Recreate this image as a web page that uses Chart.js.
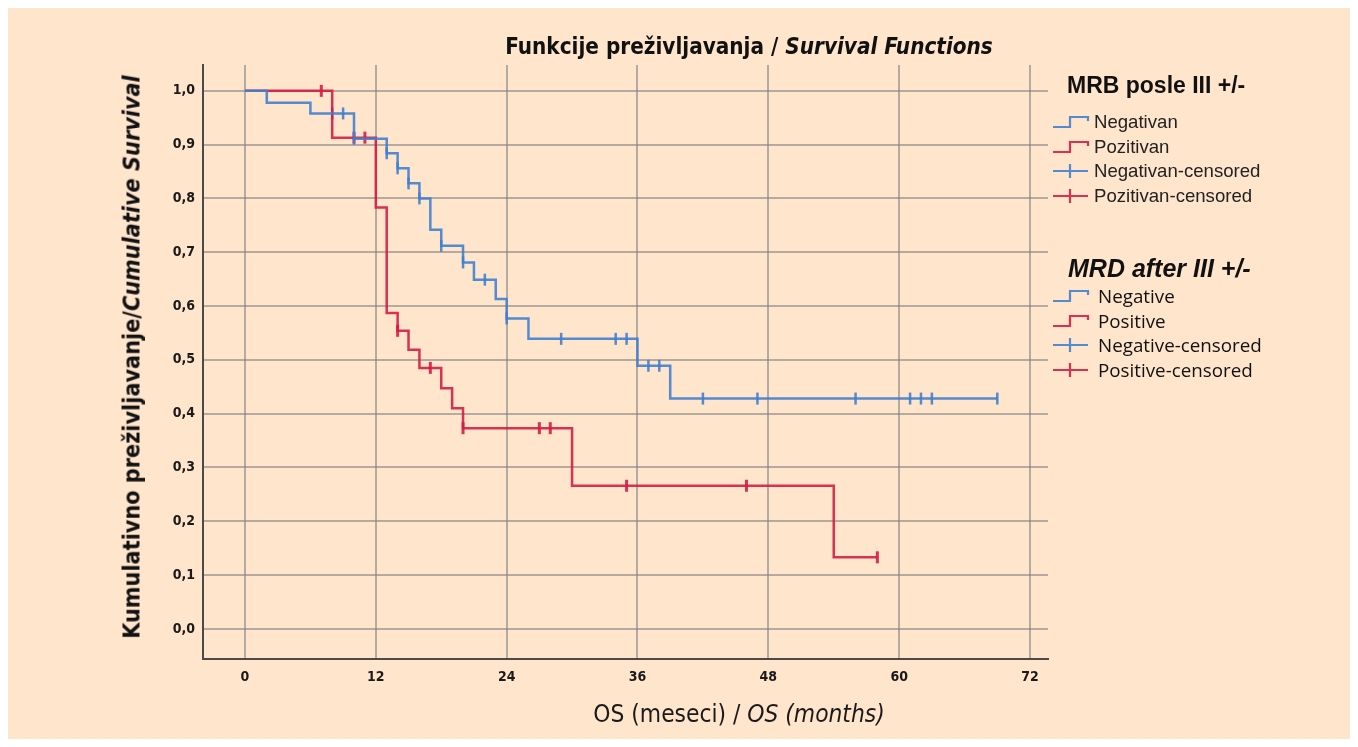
<!DOCTYPE html>
<html>
<head>
<meta charset="utf-8">
<script src="https://cdn.jsdelivr.net/npm/chart.js@4.4.1/dist/chart.umd.min.js"></script>
<style>
  html, body { margin: 0; padding: 0; background: #ffffff; }
  #wrap { position: absolute; left: 8px; top: 8px; width: 1342px; height: 731px; background: #fee5cc; }
  #chart { position: absolute; left: -8px; top: -8px; }
  .txt { position: absolute; white-space: nowrap; color: #111; }
  #title { left: 749px; top: 46px; transform: translate(-50%, -50%); font: bold 22.3px "Liberation Sans Narrow", "DejaVu Sans Condensed", sans-serif; }
  #ytitle { left: 131px; top: 357px; transform: translate(-50%, -50%) rotate(-90deg); font: bold 23.2px "Liberation Sans Narrow", "DejaVu Sans Condensed", sans-serif; }
  #xtitle { left: 739px; top: 713px; transform: translate(-50%, -50%); font: 24.3px "Liberation Sans Narrow", "DejaVu Sans Condensed", sans-serif; color: #1a1a1a; }
  .lgTitle { font: bold 23px "Liberation Sans", Arial, sans-serif; }
  .lgItem { font: 18.6px "Liberation Sans", Arial, sans-serif; color: #222; }
  .lgItem2 { font: 500 18.8px "Open Sans", sans-serif; color: #111; }
  svg.icon { position: absolute; }
</style>
</head>
<body>
<div id="wrap">
  <canvas id="chart" width="1358" height="747"></canvas>
</div>
<div class="txt" id="title">Funkcije preživljavanja / <i>Survival Functions</i></div>
<div class="txt" id="ytitle">Kumulativno preživljavanje/<i>Cumulative Survival</i></div>
<div class="txt" id="xtitle">OS (meseci) / <i>OS (months)</i></div>
<div id="legend"></div>
<script>
// Kaplan-Meier steps (time in months, survival after the drop)
const negTimes = [0, 2, 6, 10, 13, 14, 15, 16, 17, 18, 20, 21, 23, 24, 26, 36, 39, 69];
const negSurv = [1.0, 0.978, 0.958, 0.911, 0.884, 0.856, 0.828, 0.800, 0.742, 0.712, 0.681, 0.649, 0.613, 0.577, 0.539, 0.489, 0.428, 0.428];
const negCensored = [8, 9, 10, 13, 14, 15, 16, 18, 20, 22, 24, 29, 34, 35, 37, 38, 42, 47, 56, 61, 62, 63, 69];

const posTimes = [0, 8, 12, 13, 14, 15, 16, 18, 19, 20, 30, 54, 58];
const posSurv = [1.0, 0.913, 0.783, 0.587, 0.554, 0.519, 0.485, 0.447, 0.410, 0.373, 0.266, 0.133, 0.133];
const posCensored = [7, 10, 11, 14, 17, 20, 27, 28, 35, 46, 58];

const xTicks = [0, 12, 24, 36, 48, 60, 72];
const yTicks = [0, 0.1, 0.2, 0.3, 0.4, 0.5, 0.6, 0.7, 0.8, 0.9, 1.0];

const blue = 'rgba(64, 128, 208, 0.9)';
const red = 'rgba(214, 28, 68, 0.9)';

// survival level at a censored time = level of the curve at that moment
function levelAt(times, surv, t) {
  let v = surv[0];
  for (let i = 0; i < times.length; i++) {
    if (times[i] <= t) v = surv[i];
  }
  return v;
}

const toPoints = (times, surv) => times.map((t, i) => ({ x: t, y: surv[i] }));
const toCensor = (cens, times, surv) => cens.map(t => ({ x: t, y: levelAt(times, surv, t) }));

const ctx = document.getElementById('chart').getContext('2d');

new Chart(ctx, {
  type: 'line',
  data: {
    datasets: [
      {
        label: 'Negativan',
        data: toPoints(negTimes, negSurv),
        borderColor: blue,
        borderWidth: 2.5,
        stepped: 'before',
        pointRadius: 0,
        fill: false
      },
      {
        label: 'Pozitivan',
        data: toPoints(posTimes, posSurv),
        borderColor: red,
        borderWidth: 2.5,
        stepped: 'before',
        pointRadius: 0,
        fill: false
      },
      {
        label: 'Negativan-censored',
        data: toCensor(negCensored, negTimes, negSurv),
        showLine: false,
        pointStyle: 'line',
        rotation: 90,
        pointRadius: 6,
        pointBorderWidth: 2.5,
        pointBorderColor: blue,
        borderColor: blue
      },
      {
        label: 'Pozitivan-censored',
        data: toCensor(posCensored, posTimes, posSurv),
        showLine: false,
        pointStyle: 'line',
        rotation: 90,
        pointRadius: 6,
        pointBorderWidth: 3,
        pointBorderColor: red,
        borderColor: red
      }
    ]
  },
  options: {
    responsive: false,
    animation: false,
    layout: { padding: { left: 0, right: 310, top: 65, bottom: 48 } },
    plugins: {
      legend: { display: false },
      tooltip: { enabled: false }
    },
    scales: {
      x: {
        type: 'linear',
        min: -3.85,
        max: 73.65,
        afterBuildTicks: s => { s.ticks = xTicks.map(v => ({ value: v })); },
        afterFit: s => { s.height = 40; },
        grid: { color: 'rgba(130,130,130,0.6)', lineWidth: 2, drawTicks: false },
        border: { color: '#4a4a4a', width: 2 },
        ticks: {
          padding: 10,
          color: '#1a1a1a',
          font: { family: '"Liberation Sans Narrow", "DejaVu Sans Condensed", sans-serif', size: 14, weight: 'bold' }
        }
      },
      y: {
        min: -0.056,
        max: 1.048,
        afterBuildTicks: s => { s.ticks = yTicks.map(v => ({ value: v })); },
        afterFit: s => { s.width = 203; },
        grid: { color: 'rgba(130,130,130,0.6)', lineWidth: 2, drawTicks: false },
        border: { color: '#4a4a4a', width: 2 },
        ticks: {
          padding: 8,
          color: '#1a1a1a',
          callback: v => v.toFixed(1).replace('.', ','),
          font: { family: '"Liberation Sans Narrow", "DejaVu Sans Condensed", sans-serif', size: 14, weight: 'bold' }
        }
      }
    }
  }
});

// legend with two titled groups, placed to the right of the plot
const legendGroups = [
  { title: 'MRB posle III +/-', italic: false, x: 1067, y: 85, itemClass: 'lgItem', textX: 1094,
    items: [['Negativan', 'step', blue, 122], ['Pozitivan', 'step', red, 147],
            ['Negativan-censored', 'cens', blue, 171], ['Pozitivan-censored', 'cens', red, 196]] },
  { title: 'MRD after III +/-', italic: true, x: 1068, y: 268, itemClass: 'lgItem2', textX: 1098,
    items: [['Negative', 'step', blue, 296], ['Positive', 'step', red, 321],
            ['Negative-censored', 'cens', blue, 345], ['Positive-censored', 'cens', red, 370]] }
];

const legend = document.getElementById('legend');
legendGroups.forEach(g => {
  const t = document.createElement('div');
  t.className = 'txt lgTitle';
  t.style.left = g.x + 'px';
  t.style.top = g.y + 'px';
  t.style.transform = 'translateY(-50%)';
  if (g.italic) { t.style.fontStyle = 'italic'; t.style.fontSize = '25px'; }
  t.textContent = g.title;
  legend.appendChild(t);
  g.items.forEach(([label, kind, color, y]) => {
    const svg = document.createElementNS('http://www.w3.org/2000/svg', 'svg');
    svg.setAttribute('class', 'icon');
    svg.setAttribute('width', '40');
    svg.setAttribute('height', '20');
    svg.style.left = '1051px';
    svg.style.top = (y - 10) + 'px';
    const p = document.createElementNS('http://www.w3.org/2000/svg', 'path');
    p.setAttribute('d', kind === 'step' ? 'M2 15 H19 V5 H37 V9' : 'M2 10 H37 M19 3 V17');
    p.setAttribute('stroke', color);
    p.setAttribute('stroke-width', '2.2');
    p.setAttribute('fill', 'none');
    svg.appendChild(p);
    legend.appendChild(svg);
    const d = document.createElement('div');
    d.className = 'txt ' + g.itemClass;
    d.style.left = g.textX + 'px';
    d.style.top = y + 'px';
    d.style.transform = 'translateY(-50%)';
    d.textContent = label;
    legend.appendChild(d);
  });
});
</script>
</body>
</html>
